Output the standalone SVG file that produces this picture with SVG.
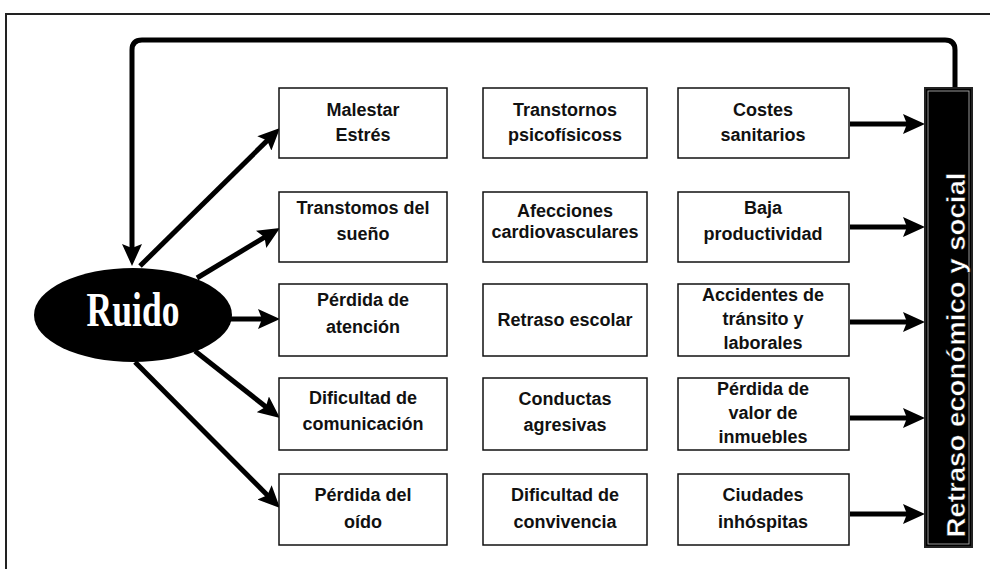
<svg xmlns="http://www.w3.org/2000/svg" width="990" height="569" viewBox="0 0 990 569">
<style>
.box{fill:#fff;stroke:#111;stroke-width:1.5}
.t{font-family:"Liberation Sans",Arial,sans-serif;font-weight:bold;font-size:18px;fill:#111;text-anchor:middle}
.n{font-family:"Liberation Sans Narrow","Liberation Sans",Arial,sans-serif}
.ln{fill:none;stroke:#000;stroke-width:5}
</style>
<defs>
<marker id="ah" markerUnits="userSpaceOnUse" markerWidth="24" markerHeight="20" refX="14" refY="10" orient="auto" viewBox="0 0 24 20">
<path d="M0,0 L22,10 L0,20 L4,10 z" fill="#000"/>
</marker>
</defs>
<rect width="990" height="569" fill="#fff"/>
<g id="frame">
<path d="M6,569 V14 H990" fill="none" stroke="#222" stroke-width="2"/>
</g>
<g id="connectors">
<path class="ln" d="M955,88 V50 Q955,40 945,40 H142 Q132,40 132,50 V258" marker-end="url(#ah)"/>
<line class="ln" x1="140" y1="266" x2="274.3" y2="133.6" marker-end="url(#ah)"/>
<line class="ln" x1="197" y1="278" x2="273.1" y2="232.1" marker-end="url(#ah)"/>
<line class="ln" x1="228" y1="319" x2="272" y2="319" marker-end="url(#ah)"/>
<line class="ln" x1="195" y1="351" x2="273.7" y2="413" marker-end="url(#ah)"/>
<line class="ln" x1="135" y1="362" x2="274.4" y2="502.3" marker-end="url(#ah)"/>
<line class="ln" x1="850" y1="124" x2="917" y2="124" marker-end="url(#ah)"/>
<line class="ln" x1="850" y1="227" x2="917" y2="227" marker-end="url(#ah)"/>
<line class="ln" x1="850" y1="322" x2="917" y2="322" marker-end="url(#ah)"/>
<line class="ln" x1="850" y1="418" x2="917" y2="418" marker-end="url(#ah)"/>
<line class="ln" x1="850" y1="514" x2="917" y2="514" marker-end="url(#ah)"/>
</g>
<g id="ruido">
<ellipse cx="133" cy="315" rx="99" ry="47" fill="#000"/>
<text transform="translate(133,326) scale(0.74,1)" font-family="'Liberation Serif',serif" font-weight="bold" font-size="48" fill="#fff" text-anchor="middle">Ruido</text>
</g>
<g id="bar">
<rect x="925" y="88" width="47" height="459" fill="#000" stroke="#222" stroke-width="2"/>
<rect x="928" y="91" width="41" height="453" fill="none" stroke="#bbb" stroke-width="0.8"/>
<text transform="translate(965,355) rotate(-90)" font-family="'Liberation Sans',Arial,sans-serif" font-weight="bold" font-size="25" fill="#fff" stroke="#000" stroke-width="0.5" text-anchor="middle" textLength="365" lengthAdjust="spacingAndGlyphs">Retraso económico y social</text>
</g>
<g id="r1c1"><rect class="box" x="279" y="88" width="168" height="70"/><text class="t" x="363" y="116">Malestar</text><text class="t" x="363" y="141">Estrés</text></g>
<g id="r1c2"><rect class="box" x="483" y="88" width="164" height="70"/><text class="t" x="565" y="116">Transtornos</text><text class="t" x="565" y="141">psicofísicoss</text></g>
<g id="r1c3"><rect class="box" x="678" y="88" width="171" height="70"/><text class="t" x="763" y="116">Costes</text><text class="t" x="763" y="141">sanitarios</text></g>
<g id="r2c1"><rect class="box" x="279" y="192" width="168" height="70"/><text class="t" x="363" y="214">Transtomos del</text><text class="t" x="363" y="240">sueño</text></g>
<g id="r2c2"><rect class="box" x="483" y="192" width="164" height="70"/><text class="t" x="565" y="217" font-size="14">Afecciones</text><text class="t" x="565" y="238" font-size="14">cardiovasculares</text></g>
<g id="r2c3"><rect class="box" x="678" y="192" width="171" height="70"/><text class="t" x="763" y="214">Baja</text><text class="t" x="763" y="240">productividad</text></g>
<g id="r3c1"><rect class="box" x="279" y="284" width="168" height="72"/><text class="t" x="363" y="306">Pérdida de</text><text class="t" x="363" y="333">atención</text></g>
<g id="r3c2"><rect class="box" x="483" y="284" width="164" height="72"/><text class="t" x="565" y="326">Retraso escolar</text></g>
<g id="r3c3"><rect class="box" x="678" y="284" width="171" height="72"/><text class="t" x="763" y="301">Accidentes de</text><text class="t" x="763" y="325">tránsito y</text><text class="t" x="763" y="349">laborales</text></g>
<g id="r4c1"><rect class="box" x="279" y="378" width="168" height="72"/><text class="t" x="363" y="404">Dificultad de</text><text class="t" x="363" y="430">comunicación</text></g>
<g id="r4c2"><rect class="box" x="483" y="378" width="164" height="72"/><text class="t" x="565" y="405">Conductas</text><text class="t" x="565" y="431">agresivas</text></g>
<g id="r4c3"><rect class="box" x="678" y="378" width="171" height="72"/><text class="t" x="763" y="395">Pérdida de</text><text class="t" x="763" y="419">valor de</text><text class="t" x="763" y="443">inmuebles</text></g>
<g id="r5c1"><rect class="box" x="279" y="474" width="168" height="71"/><text class="t n" x="363" y="501">Pérdida del</text><text class="t n" x="363" y="528">oído</text></g>
<g id="r5c2"><rect class="box" x="483" y="474" width="164" height="71"/><text class="t n" x="565" y="501">Dificultad de</text><text class="t n" x="565" y="528">convivencia</text></g>
<g id="r5c3"><rect class="box" x="678" y="474" width="171" height="71"/><text class="t n" x="763" y="501">Ciudades</text><text class="t n" x="763" y="528">inhóspitas</text></g>
</svg>
